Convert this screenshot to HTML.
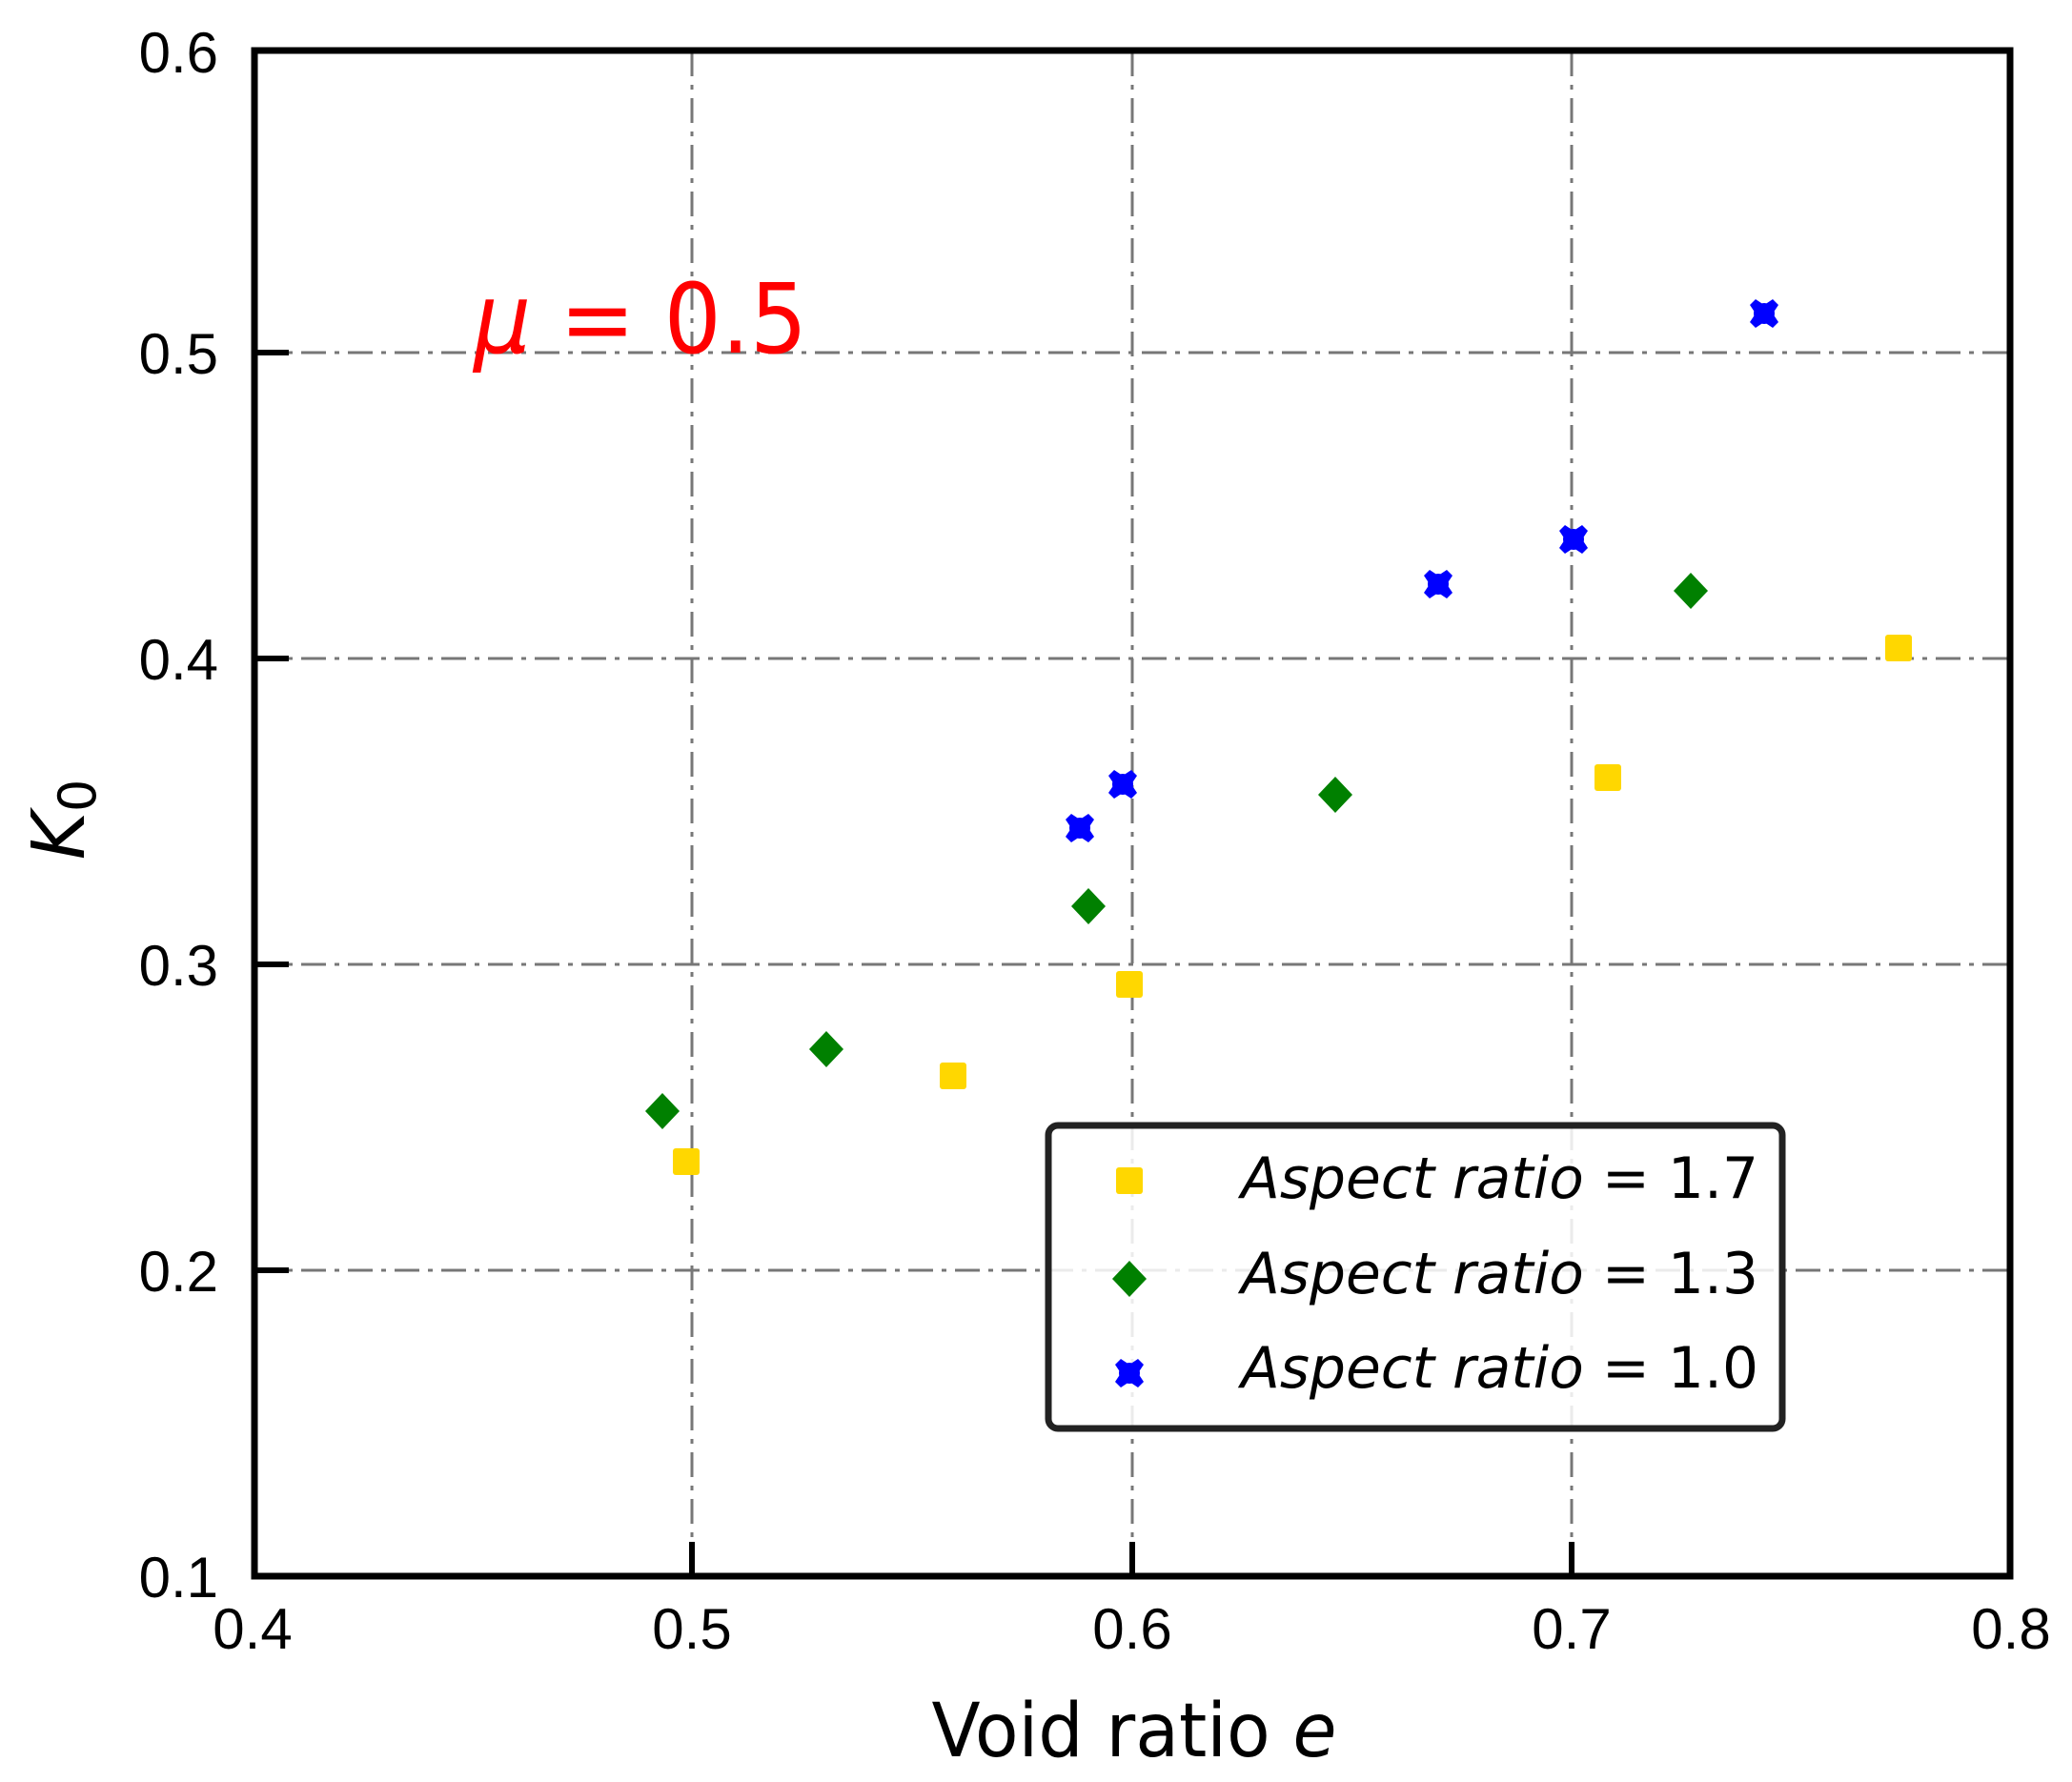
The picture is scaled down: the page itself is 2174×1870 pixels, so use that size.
<!DOCTYPE html>
<html><head><meta charset="utf-8"><style>html,body{margin:0;padding:0;background:#fff}svg{display:block}</style></head>
<body>
<svg width="2174" height="1870" viewBox="0 0 2174 1870" xmlns="http://www.w3.org/2000/svg" font-family="'DejaVu Sans','Liberation Sans',sans-serif">
<defs>
<rect id="sq" x="-14" y="-14" width="28" height="28" rx="3" fill="#FFD700"/>
<polygon id="di" points="0,-19 18,0 0,19 -18,0" fill="#008000"/>
<g id="bx" fill="#0000FF"><polygon points="-9,-15 0,-9 9,-15 15,-9 9,0 15,9 9,15 0,9 -9,15 -15,9 -9,0 -15,-9"/><circle r="11"/></g>
</defs>
<g stroke="#777" stroke-width="3" stroke-dasharray="26 9 5 9" fill="none">
<line x1="726" y1="54" x2="726" y2="1654"/>
<line x1="1188" y1="54" x2="1188" y2="1654"/>
<line x1="1649" y1="54" x2="1649" y2="1654"/>
<line x1="267" y1="1333" x2="2108" y2="1333"/>
<line x1="267" y1="1012" x2="2108" y2="1012"/>
<line x1="267" y1="691" x2="2108" y2="691"/>
<line x1="267" y1="370" x2="2108" y2="370"/>
</g>
<g stroke="#000" stroke-width="6">
<line x1="267" y1="1333" x2="303" y2="1333"/>
<line x1="267" y1="1012" x2="303" y2="1012"/>
<line x1="267" y1="691" x2="303" y2="691"/>
<line x1="267" y1="370" x2="303" y2="370"/>
<line x1="726" y1="1654" x2="726" y2="1618"/>
<line x1="1188" y1="1654" x2="1188" y2="1618"/>
<line x1="1649" y1="1654" x2="1649" y2="1618"/>
</g>
<rect x="267" y="53" width="1842" height="1601" fill="none" stroke="#000" stroke-width="7"/>
<g font-size="60" fill="#000" text-anchor="end" font-family="'Liberation Sans',sans-serif">
<text x="229" y="76">0.6</text>
<text x="229" y="392">0.5</text>
<text x="229" y="713">0.4</text>
<text x="229" y="1034">0.3</text>
<text x="229" y="1355">0.2</text>
<text x="229" y="1676">0.1</text>
</g>
<g font-size="60" fill="#000" text-anchor="middle" font-family="'Liberation Sans',sans-serif">
<text x="265" y="1730">0.4</text>
<text x="726" y="1730">0.5</text>
<text x="1188" y="1730">0.6</text>
<text x="1649" y="1730">0.7</text>
<text x="2110" y="1730">0.8</text>
</g>
<text x="1190" y="1843" font-size="78" text-anchor="middle" textLength="425" lengthAdjust="spacingAndGlyphs">Void ratio <tspan font-style="italic">e</tspan></text>
<text transform="translate(88,860) rotate(-90)" font-size="77" text-anchor="middle"><tspan font-style="italic">K</tspan><tspan font-size="54" dy="12">0</tspan></text>
<text x="497" y="370" font-size="102" fill="#FF0000" textLength="350" lengthAdjust="spacingAndGlyphs"><tspan font-style="italic">μ</tspan> = 0.5</text>
<use href="#sq" x="720" y="1219"/><use href="#sq" x="1000" y="1129"/><use href="#sq" x="1185" y="1033"/><use href="#sq" x="1687" y="816"/><use href="#sq" x="1992" y="680"/>
<use href="#di" x="695" y="1166"/><use href="#di" x="867" y="1101"/><use href="#di" x="1142" y="951"/><use href="#di" x="1401" y="834"/><use href="#di" x="1774" y="620"/>
<use href="#bx" x="1133" y="869"/><use href="#bx" x="1178" y="823"/><use href="#bx" x="1509" y="613"/><use href="#bx" x="1651" y="566"/><use href="#bx" x="1851" y="329"/>
<rect x="1100" y="1181" width="770" height="318" rx="10" fill="rgba(255,255,255,0.85)" stroke="#222" stroke-width="7"/>
<use href="#sq" x="1185" y="1239"/>
<use href="#di" x="1185" y="1342"/>
<use href="#bx" x="1185" y="1441"/>
<g font-size="60" fill="#000">
<text x="1302" y="1257" textLength="543" lengthAdjust="spacingAndGlyphs"><tspan font-style="italic">Aspect ratio</tspan> = 1.7</text>
<text x="1302" y="1357" textLength="543" lengthAdjust="spacingAndGlyphs"><tspan font-style="italic">Aspect ratio</tspan> = 1.3</text>
<text x="1302" y="1456" textLength="543" lengthAdjust="spacingAndGlyphs"><tspan font-style="italic">Aspect ratio</tspan> = 1.0</text>
</g>
</svg>
</body></html>
